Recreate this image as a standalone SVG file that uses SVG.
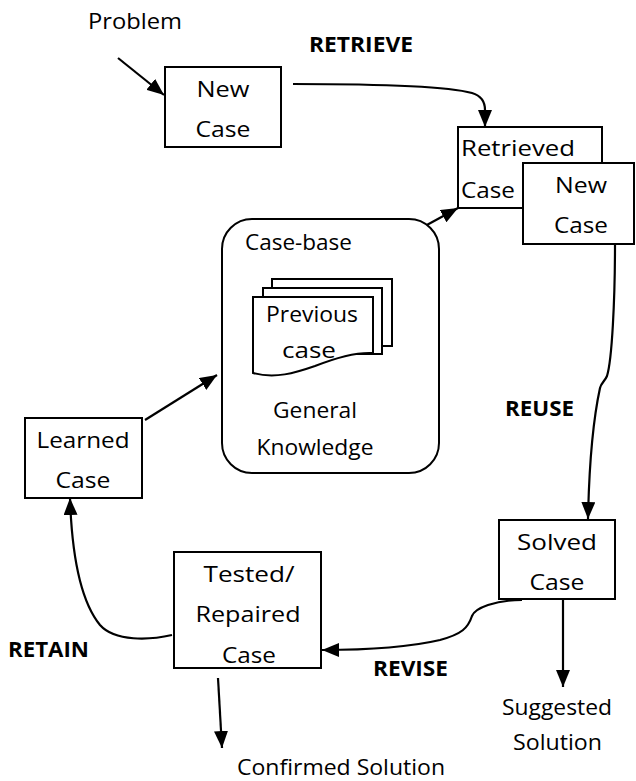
<svg xmlns="http://www.w3.org/2000/svg" width="636" height="781" viewBox="0 0 636 781">
<style>
text{font-family:"Open Sans","Liberation Sans",sans-serif;font-size:21px;fill:#000}
.b{font-weight:bold}
.m{text-anchor:middle}
.box{fill:#fff;stroke:#000;stroke-width:2}
.c{fill:none;stroke:#000;stroke-width:2.2}
</style>
<defs>
<marker id="ah" viewBox="0 0 17 14" refX="17" refY="7" markerWidth="17" markerHeight="14" markerUnits="userSpaceOnUse" orient="auto"><path d="M0,0 L17,7 L0,14 z" fill="#000"/></marker>
</defs>
<rect width="636" height="781" fill="#fff"/>
<g id="labels">
<text x="88" y="29" textLength="94" lengthAdjust="spacingAndGlyphs">Problem</text>
<text class="b" x="309" y="52" textLength="104" lengthAdjust="spacingAndGlyphs">RETRIEVE</text>
<text class="b" x="505" y="416" textLength="69" lengthAdjust="spacingAndGlyphs">REUSE</text>
<text class="b" x="373" y="676" textLength="75" lengthAdjust="spacingAndGlyphs">REVISE</text>
<text class="b" x="8" y="657" textLength="81" lengthAdjust="spacingAndGlyphs">RETAIN</text>
<text x="237" y="775" textLength="208" lengthAdjust="spacingAndGlyphs">Confirmed Solution</text>
<text x="502" y="715" textLength="110" lengthAdjust="spacingAndGlyphs">Suggested</text>
<text x="513" y="750" textLength="89" lengthAdjust="spacingAndGlyphs">Solution</text>
</g>
<g id="connectors">
<path class="c" d="M118,58 L164,95" marker-end="url(#ah)"/>
<path class="c" d="M293,84 C380,84 450,87 472,93 C482,96 485,102 485,110 L485,127" marker-end="url(#ah)"/>
<path class="c" d="M425,226 L458,208" marker-end="url(#ah)"/>
<path class="c" d="M145,420 L217,375" marker-end="url(#ah)"/>
<path class="c" d="M172,635 C150,640 115,642 100,625 C82,603 72,560 70,498" marker-end="url(#ah)"/>
<path class="c" d="M218,678 L222,748" marker-end="url(#ah)"/>
<path class="c" d="M615,244 C615,300 612,360 607,376 C605,381 601,383 600,388 C592,425 589,470 588,519" marker-end="url(#ah)"/>
<path class="c" d="M522,600 C495,600 475,608 472,616 C468,628 462,634 440,640 C410,647 370,650 322,650" marker-end="url(#ah)"/>
<path class="c" d="M563,599 L563,687" marker-end="url(#ah)"/>
</g>
<g id="new-case">
<rect class="box" x="165" y="67" width="116" height="80"/>
<text class="m" x="223" y="97" textLength="53" lengthAdjust="spacingAndGlyphs">New</text>
<text class="m" x="223" y="137" textLength="55" lengthAdjust="spacingAndGlyphs">Case</text>
</g>
<g id="retrieved-case">
<rect class="box" x="458" y="127" width="144" height="81"/>
<text x="461" y="156" textLength="114" lengthAdjust="spacingAndGlyphs">Retrieved</text>
<text x="461" y="198" textLength="54" lengthAdjust="spacingAndGlyphs">Case</text>
</g>
<g id="new-case-2">
<rect class="box" x="523" y="163" width="111" height="81"/>
<text class="m" x="581" y="193" textLength="52" lengthAdjust="spacingAndGlyphs">New</text>
<text class="m" x="581" y="233" textLength="54" lengthAdjust="spacingAndGlyphs">Case</text>
</g>
<g id="case-base">
<rect class="box" x="222" y="219" width="217" height="254" rx="30"/>
<text x="245" y="250" textLength="107" lengthAdjust="spacingAndGlyphs">Case-base</text>
<rect class="box" x="272" y="279" width="120" height="67"/>
<rect class="box" x="263" y="288" width="119" height="66"/>
<path class="box" d="M253,297 H373 V353 C355,352 335,358 315,366 C295,373 275,379 253,373 Z"/>
<text class="m" x="312" y="322" textLength="92" lengthAdjust="spacingAndGlyphs">Previous</text>
<text class="m" x="309" y="358" textLength="54" lengthAdjust="spacingAndGlyphs">case</text>
<text class="m" x="315" y="418" textLength="84" lengthAdjust="spacingAndGlyphs">General</text>
<text class="m" x="315" y="455" textLength="117" lengthAdjust="spacingAndGlyphs">Knowledge</text>
</g>
<g id="learned-case">
<rect class="box" x="25" y="418" width="117" height="80"/>
<text class="m" x="83" y="448" textLength="93" lengthAdjust="spacingAndGlyphs">Learned</text>
<text class="m" x="83" y="488" textLength="55" lengthAdjust="spacingAndGlyphs">Case</text>
</g>
<g id="tested-case">
<rect class="box" x="174" y="552" width="147" height="116"/>
<text class="m" x="249" y="582" textLength="91" lengthAdjust="spacingAndGlyphs">Tested/</text>
<text class="m" x="248" y="622" textLength="105" lengthAdjust="spacingAndGlyphs">Repaired</text>
<text class="m" x="249" y="663" textLength="54" lengthAdjust="spacingAndGlyphs">Case</text>
</g>
<g id="solved-case">
<rect class="box" x="499" y="520" width="116" height="79"/>
<text class="m" x="557" y="550" textLength="80" lengthAdjust="spacingAndGlyphs">Solved</text>
<text class="m" x="557" y="590" textLength="55" lengthAdjust="spacingAndGlyphs">Case</text>
</g>
</svg>
